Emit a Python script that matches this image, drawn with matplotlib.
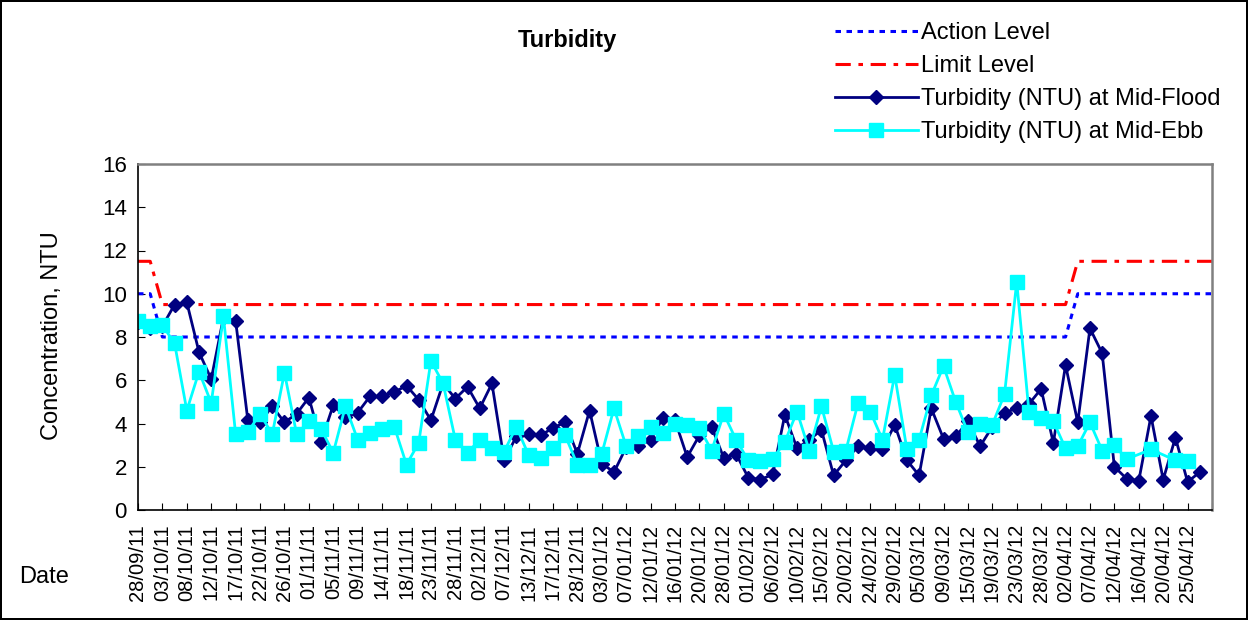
import numpy as np
import matplotlib as mpl
import matplotlib.pyplot as plt

mpl.rcParams['font.family'] = ['Liberation Sans', 'DejaVu Sans']

# date labels, one on every second sampling event
dates = ['28/09/11', '03/10/11', '08/10/11', '12/10/11', '17/10/11', '22/10/11',
         '26/10/11', '01/11/11', '05/11/11', '09/11/11', '14/11/11', '18/11/11',
         '23/11/11', '28/11/11', '02/12/11', '07/12/11', '13/12/11', '17/12/11',
         '28/12/11', '03/01/12', '07/01/12', '12/01/12', '16/01/12', '20/01/12',
         '28/01/12', '01/02/12', '06/02/12', '10/02/12', '15/02/12', '20/02/12',
         '24/02/12', '29/02/12', '05/03/12', '09/03/12', '15/03/12', '19/03/12',
         '23/03/12', '28/03/12', '02/04/12', '07/04/12', '12/04/12', '16/04/12',
         '20/04/12', '25/04/12']

flood = [8.7, 8.4, 8.5, 9.5, 9.6, 7.3, 6.05, 8.9, 8.75, 4.15,
         4.05, 4.8, 4.05, 4.45, 5.2, 3.15, 4.85, 4.3, 4.5, 5.25,
         5.25, 5.45, 5.75, 5.1, 4.15, 5.85, 5.15, 5.7, 4.7, 5.85,
         2.3, 3.4, 3.5, 3.45, 3.8, 4.05, 2.6, 4.6, 2.15, 1.75,
         2.9, 2.95, 3.25, 4.25, 4.15, 2.45, 3.45, 3.85, 2.4, 2.6,
         1.5, 1.4, 1.65, 4.4, 2.85, 3.25, 3.7, 1.6, 2.3, 2.95,
         2.85, 2.8, 3.95, 2.3, 1.6, 4.7, 3.3, 3.4, 4.1, 2.95,
         3.85, 4.5, 4.7, 4.9, 5.6, 3.1, 6.7, 4.05, 8.4, 7.25,
         2.0, 1.45, 1.35, 4.35, 1.4, 3.35, 1.3, 1.75, None]

ebb = [8.75, 8.5, 8.55, 7.7, 4.6, 6.4, 4.95, 8.95, 3.5, 3.6,
       4.45, 3.5, 6.35, 3.5, 4.1, 3.75, 2.65, 4.8, 3.25, 3.55,
       3.75, 3.85, 2.1, 3.1, 6.9, 5.85, 3.25, 2.65, 3.25, 2.85,
       2.7, 3.85, 2.55, 2.4, 2.85, 3.45, 2.1, 2.1, 2.6, 4.7,
       2.95, 3.4, 3.85, 3.55, 4.0, 3.95, 3.8, 2.75, 4.45, 3.25,
       2.3, 2.25, 2.35, 3.15, 4.55, 2.75, 4.8, 2.7, 2.75, 4.95,
       4.55, 3.25, 6.25, 2.8, 3.25, 5.3, 6.65, 5.0, 3.6, 4.0,
       3.95, 5.35, 10.55, 4.55, 4.25, 4.1, 2.85, 2.95, 4.05, 2.75,
       3.0, 2.35, None, 2.8, None, 2.3, 2.25, None, None]

action = [10, 10] + [8] * 75 + [10] * 12
limit = [11.5, 11.5] + [9.5] * 75 + [11.5] * 12

n = len(action)
x = np.arange(n)

fig = plt.figure(figsize=(12.48, 6.2), dpi=100)
fig.patch.set_edgecolor('black')
fig.patch.set_linewidth(1.5)
ax = fig.add_axes([138/1248, 1 - 510/620, (1212-138)/1248, (510-164)/620])

ax.plot(x, action, color='#0000FF', lw=2.2, ls=(0, (1.8, 1.8)),
        label='Action Level')
ax.plot(x, limit, color='#FF0000', lw=2.2, ls=(0, (5, 2.5, 1.5, 2.5)),
        label='Limit Level')

# Excel joins across gaps, so plot only points that exist
fl = np.array([np.nan if v is None else v for v in flood], dtype=float)
eb = np.array([np.nan if v is None else v for v in ebb], dtype=float)
mf = ~np.isnan(fl)
me = ~np.isnan(eb)
ax.plot(x[mf], fl[mf], color='#000080', lw=2, marker='D', ms=7.5,
        label='Turbidity (NTU) at Mid-Flood')
ax.plot(x[me], eb[me], color='#00FFFF', lw=2, marker='s', ms=10.5,
        label='Turbidity (NTU) at Mid-Ebb')

ax.set_xlim(0, n - 1)
ax.set_ylim(0, 16)
ax.set_yticks(range(0, 17, 2))
ax.set_xticks(x[::2])
ax.set_xticklabels(dates + [''], rotation=90, fontsize=14.5)
ax.tick_params(axis='y', labelsize=16, direction='in', length=5, pad=8)
ax.tick_params(axis='x', direction='in', length=5, pad=10)

for s in ['top', 'right']:
    ax.spines[s].set_color('#808080')
    ax.spines[s].set_linewidth(1.8)
for s in ['left', 'bottom']:
    ax.spines[s].set_color('black')
    ax.spines[s].set_linewidth(1.2)

fig.text(52/1248, 1 - 336/620, 'Concentration, NTU', fontsize=17,
         rotation=90, ha='center', va='center')
fig.text(44/1248, 1 - 577/620, 'Date', fontsize=17, ha='center', va='center')
fig.text(567/1248, 1 - 40/620, 'Turbidity', fontsize=17, fontweight='bold',
         ha='center', va='center')

fig.legend(loc='upper left', bbox_to_anchor=(835/1248, 1 - 22/620),
           frameon=False, fontsize=17, handlelength=3.5, handletextpad=0.15,
           labelspacing=0.47, borderpad=0, borderaxespad=0)

plt.savefig('out.png', dpi=100)
